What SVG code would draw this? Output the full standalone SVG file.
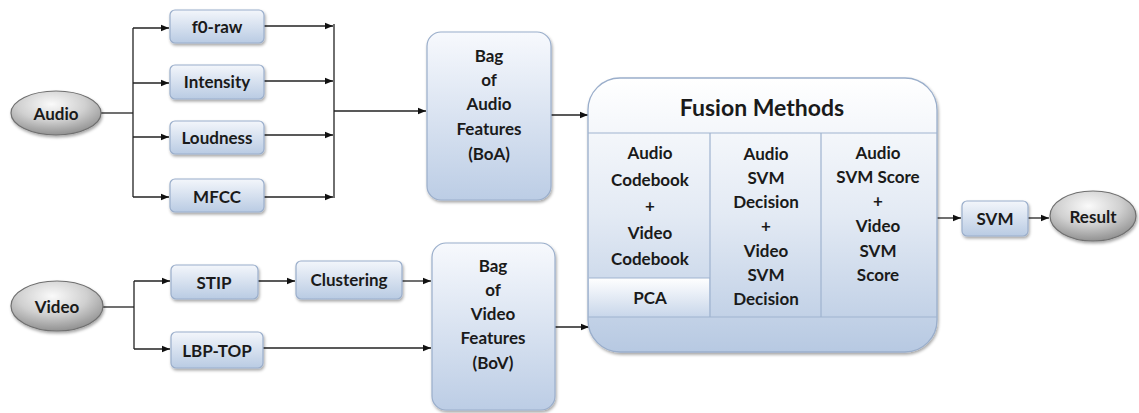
<svg xmlns="http://www.w3.org/2000/svg" width="1139" height="413" viewBox="0 0 1139 413">
<defs>
<linearGradient id="gBox" x1="0" y1="0" x2="0" y2="1"><stop offset="0" stop-color="#f3f6fb"/><stop offset="1" stop-color="#b9cbe3"/></linearGradient>
<linearGradient id="gBig" x1="0" y1="0" x2="0" y2="1"><stop offset="0" stop-color="#f7f9fd"/><stop offset="1" stop-color="#bccde5"/></linearGradient>
<linearGradient id="gFus" x1="0" y1="0" x2="0" y2="1"><stop offset="0" stop-color="#ffffff"/><stop offset="0.5" stop-color="#e3eaf4"/><stop offset="1" stop-color="#b7c9e2"/></linearGradient>
<linearGradient id="gPca" x1="0" y1="0" x2="0" y2="1"><stop offset="0" stop-color="#ffffff"/><stop offset="1" stop-color="#c8d6ea"/></linearGradient>
<radialGradient id="gEll" cx="0.45" cy="0.3" r="0.75"><stop offset="0" stop-color="#fafafa"/><stop offset="0.5" stop-color="#d0d0d0"/><stop offset="1" stop-color="#888888"/></radialGradient>
<filter id="sh" x="-10%" y="-10%" width="130%" height="140%"><feDropShadow dx="1" dy="2" stdDeviation="1.5" flood-color="#000" flood-opacity="0.35"/></filter>
<marker id="ar" viewBox="0 0 10 10" refX="10" refY="5" markerWidth="8" markerHeight="8" markerUnits="userSpaceOnUse" orient="auto"><path d="M0,1 L10,5 L0,9 z" fill="#111"/></marker>
</defs>
<style>
.box{fill:url(#gBox);stroke:#9aaecb;stroke-width:1.2;filter:url(#sh)}
.big{fill:url(#gBig);stroke:#9aaecb;stroke-width:1.2;filter:url(#sh)}
.ell{fill:url(#gEll);stroke:#6f6f6f;stroke-width:1.2;filter:url(#sh)}
.t{font-family:Lato,"Open Sans","Liberation Sans",sans-serif;font-weight:bold;font-size:17px;fill:#1a1a1a;text-anchor:middle;dominant-baseline:central}
.ti{font-size:23px}
.c{fill:none;stroke:#222;stroke-width:1.3}
.in{fill:none;stroke:#9fb3cf;stroke-width:1.2}
</style>
<rect width="1139" height="413" fill="#fff"/>
<g id="connectors">
<path class="c" d="M101,113 H133"/>
<path class="c" d="M133,28 V197"/>
<path class="c" d="M133,28 H169" marker-end="url(#ar)"/>
<path class="c" d="M133,83 H169" marker-end="url(#ar)"/>
<path class="c" d="M133,137 H169" marker-end="url(#ar)"/>
<path class="c" d="M133,197 H169" marker-end="url(#ar)"/>
<path class="c" d="M264,26 H333" marker-end="url(#ar)"/>
<path class="c" d="M264,81 H333" marker-end="url(#ar)"/>
<path class="c" d="M264,135 H333" marker-end="url(#ar)"/>
<path class="c" d="M264,197 H333" marker-end="url(#ar)"/>
<path class="c" d="M334,24 V198"/>
<path class="c" d="M334,111 H426" marker-end="url(#ar)"/>
<path class="c" d="M551,115 H588" marker-end="url(#ar)"/>
<path class="c" d="M103,307 H134"/>
<path class="c" d="M134,281 V349"/>
<path class="c" d="M134,281 H170" marker-end="url(#ar)"/>
<path class="c" d="M134,349 H170" marker-end="url(#ar)"/>
<path class="c" d="M258,281 H295" marker-end="url(#ar)"/>
<path class="c" d="M402,281 H431" marker-end="url(#ar)"/>
<path class="c" d="M263,348 H431" marker-end="url(#ar)"/>
<path class="c" d="M555,327 H589" marker-end="url(#ar)"/>
<path class="c" d="M937,218 H961" marker-end="url(#ar)"/>
<path class="c" d="M1028,218 H1049" marker-end="url(#ar)"/>
</g>
<g id="audio"><ellipse class="ell" cx="56" cy="113" rx="45" ry="22"/><text class="t" x="56" y="113">Audio</text></g>
<g id="video"><ellipse class="ell" cx="57" cy="306" rx="46" ry="25"/><text class="t" x="57" y="306">Video</text></g>
<g id="f0raw"><rect class="box" x="170" y="10" width="94" height="33" rx="5"/><text class="t" x="217" y="26">f0-raw</text></g>
<g id="intensity"><rect class="box" x="170" y="65" width="94" height="34" rx="5"/><text class="t" x="217" y="81">Intensity</text></g>
<g id="loudness"><rect class="box" x="170" y="121" width="94" height="33" rx="5"/><text class="t" x="217" y="137">Loudness</text></g>
<g id="mfcc"><rect class="box" x="170" y="179" width="94" height="33" rx="5"/><text class="t" x="217" y="196">MFCC</text></g>
<g id="stip"><rect class="box" x="171" y="265" width="87" height="34" rx="5"/><text class="t" x="214" y="282">STIP</text></g>
<g id="lbptop"><rect class="box" x="171" y="332" width="92" height="36" rx="5"/><text class="t" x="217" y="350">LBP-TOP</text></g>
<g id="clustering"><rect class="box" x="296" y="261" width="106" height="38" rx="5"/><text class="t" x="349" y="279">Clustering</text></g>
<g id="boa"><rect class="big" x="427" y="32" width="124" height="168" rx="14"/>
<text class="t" x="489" y="55">Bag</text><text class="t" x="489" y="79">of</text><text class="t" x="489" y="103">Audio</text><text class="t" x="489" y="128">Features</text><text class="t" x="489" y="153">(BoA)</text></g>
<g id="bov"><rect class="big" x="432" y="243" width="123" height="167" rx="14"/>
<text class="t" x="493" y="265">Bag</text><text class="t" x="493" y="289">of</text><text class="t" x="493" y="313">Video</text><text class="t" x="493" y="337">Features</text><text class="t" x="493" y="362">(BoV)</text></g>
<g id="fusion">
<rect x="588" y="78" width="349" height="274" rx="32" fill="url(#gFus)" stroke="#9aaecb" stroke-width="1.3" filter="url(#sh)"/>
<rect x="589" y="278" width="120" height="39" fill="url(#gPca)"/>
<path class="in" d="M588,133 H937 M710,133 V317 M821,133 V317 M588,317 H937 M589,278 H710"/>
<text class="t ti" x="762" y="107">Fusion Methods</text>
<text class="t" x="650" y="152">Audio</text><text class="t" x="650" y="179">Codebook</text><text class="t" x="650" y="205">+</text><text class="t" x="650" y="232">Video</text><text class="t" x="650" y="258">Codebook</text>
<text class="t" x="650" y="297">PCA</text>
<text class="t" x="766" y="153">Audio</text><text class="t" x="766" y="177">SVM</text><text class="t" x="766" y="201">Decision</text><text class="t" x="766" y="225">+</text><text class="t" x="766" y="250">Video</text><text class="t" x="766" y="274">SVM</text><text class="t" x="766" y="298">Decision</text>
<text class="t" x="878" y="152">Audio</text><text class="t" x="878" y="176">SVM Score</text><text class="t" x="878" y="200">+</text><text class="t" x="878" y="225">Video</text><text class="t" x="878" y="250">SVM</text><text class="t" x="878" y="274">Score</text>
</g>
<g id="svm"><rect class="box" x="962" y="201" width="66" height="35" rx="5"/><text class="t" x="995" y="218">SVM</text></g>
<g id="result"><ellipse class="ell" cx="1093" cy="216" rx="43" ry="25"/><text class="t" x="1093" y="216">Result</text></g>
</svg>
